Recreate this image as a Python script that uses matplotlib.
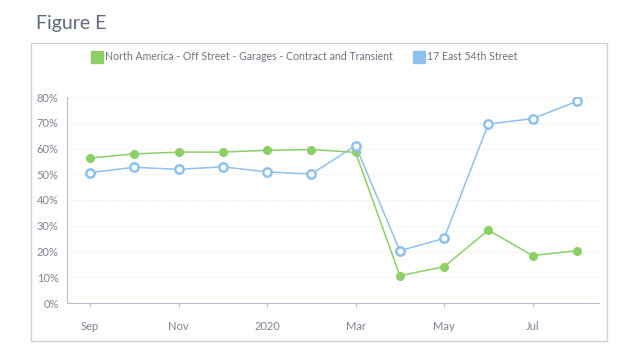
import matplotlib
matplotlib.use("Agg")
import matplotlib.pyplot as plt
from matplotlib.lines import Line2D
from matplotlib.patches import Rectangle

months = ["Sep", "Oct", "Nov", "Dec", "Jan", "Feb", "Mar", "Apr", "May", "Jun", "Jul", "Aug"]
tick_labels = ["Sep", "Nov", "2020", "Mar", "May", "Jul"]
tick_months = ["Sep", "Nov", "Jan", "Mar", "May", "Jul"]
north_america = [56.3, 57.9, 58.6, 58.6, 59.3, 59.6, 58.5, 10.6, 14.1, 28.3, 18.4, 20.3]
east_54th = [50.6, 52.7, 51.9, 52.9, 50.9, 50.1, 61.1, 20.3, 25.1, 69.5, 71.6, 78.3]
series_names = ["North America - Off Street - Garages - Contract and Transient", "17 East 54th Street"]
y_ticks = [0, 10, 20, 30, 40, 50, 60, 70, 80]

green = "#8bd066"
blue = "#8fc1ef"
text_col = "#7b8394"
font = "Lato"

fig = plt.figure(figsize=(6.38, 3.62), dpi=100)
W, H = 638, 362

# outer box
fig.patches.append(Rectangle((30.7 / W, 1 - 341 / H), (607 - 30.7) / W, (341 - 43) / H,
                             transform=fig.transFigure, fill=False, edgecolor="#d0d0d0", lw=1.0))
fig.text(36 / W, 1 - 29 / H, "Figure E", fontsize=14, color="#5f697c", family=font, va="baseline")

ax = fig.add_axes([67 / W, 1 - 303 / H, (599 - 67) / W, (303 - 97) / H])
x = list(range(len(months)))
ax.plot(x, north_america, color=green, lw=1.1, marker="o", ms=5.5, mfc=green, mec=green, zorder=3)
ax.plot(x, east_54th, color=blue, lw=1.1, marker="o", ms=6, mfc="white", mec=blue, mew=1.8, zorder=3)

ax.set_xlim(-0.52, 11.5)
ax.set_ylim(0, 80)
ax.set_yticks(y_ticks)
ax.set_yticklabels([f"{v}%" for v in y_ticks])
ax.set_xticks([months.index(m) for m in tick_months])
ax.set_xticklabels(tick_labels)
for lab in ax.get_xticklabels() + ax.get_yticklabels():
    lab.set_fontfamily(font)
    lab.set_fontsize(8)
    lab.set_color(text_col)
ax.tick_params(axis="y", length=0, pad=6)
ax.tick_params(axis="x", length=3, color="#b8bec8", pad=10)
ax.grid(axis="y", color="#eceef1", lw=0.8, ls=(0, (1, 1)))
ax.set_axisbelow(True)
for s in ["top", "right"]:
    ax.spines[s].set_visible(False)
ax.spines["left"].set_color("#b8bec8")
ax.spines["bottom"].set_color("#b8bec8")

handles = [Line2D([], [], ls="none", marker="s", ms=8, mfc=green, mec=green),
           Line2D([], [], ls="none", marker="s", ms=8, mfc=blue, mec=blue)]
leg = fig.legend(handles, series_names, loc="center", bbox_to_anchor=(0.478, 1 - 57 / H),
                 ncol=2, frameon=False, handletextpad=0.35, columnspacing=2.0, handlelength=0.9,
                 prop={"family": font, "size": 7.6})
for t in leg.get_texts():
    t.set_color("#6b7383")

fig.savefig("out.png", dpi=100)
